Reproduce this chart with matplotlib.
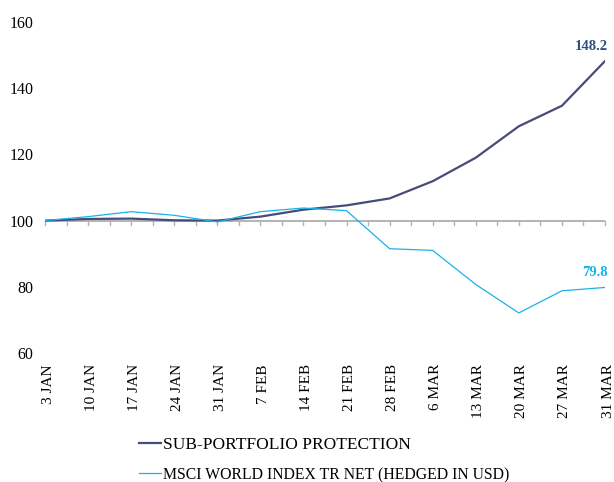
import matplotlib
matplotlib.use("Agg")
import matplotlib.pyplot as plt
import matplotlib.transforms as mtransforms
import numpy as np

categories = ["3 JAN", "10 JAN", "17 JAN", "24 JAN", "31 JAN", "7 FEB", "14 FEB",
              "21 FEB", "28 FEB", "6 MAR", "13 MAR", "20 MAR", "27 MAR", "31 MAR"]
protection = [100.0, 100.5, 100.6, 100.1, 100.0, 101.2, 103.3, 104.6, 106.7,
              111.9, 119.0, 128.5, 134.7, 148.2]
msci = [100.0, 101.2, 102.7, 101.6, 99.6, 102.7, 103.8, 103.0, 91.5, 91.0,
        80.7, 72.1, 78.8, 79.8]
series_names = ["SUB-PORTFOLIO PROTECTION", "MSCI WORLD INDEX TR NET (HEDGED IN USD)"]

plt.rcParams['font.family'] = ['Liberation Serif', 'DejaVu Serif']

dark = "#464c78"
cyan = "#1ab2ea"

fig = plt.figure(figsize=(6.14, 4.82), dpi=100)
ax = fig.add_axes([45/614, 1-353/482, 560/614, 331/482])
x = np.arange(len(categories))
l1, = ax.plot(x, protection, color=dark, lw=1.6, label=series_names[0], zorder=3)
l2, = ax.plot(x, msci, color=cyan, lw=0.9, label=series_names[1], zorder=4)

ax.set_xlim(0, len(categories) - 1)
ax.set_ylim(60, 160)
ax.set_yticks([60, 80, 100, 120, 140, 160])
for s in ax.spines.values():
    s.set_visible(False)
ax.tick_params(axis='y', length=0, pad=8.5, labelsize=11.5)

# category axis at 100
ax.axhline(100, color="#b3b3b3", lw=1.4, zorder=2)
ticks = np.arange(0, len(categories) - 0.5 + 0.01, 0.5)
for t in ticks:
    ax.plot([t, t], [100, 98.8], color="#b3b3b3", lw=1.0, zorder=2, clip_on=False)
ax.set_xticks(x)
ax.set_xticklabels(categories, rotation=90, fontsize=11)
ax.tick_params(axis='x', length=0, pad=8)
shift = mtransforms.ScaledTranslation(3.0/100, 0, fig.dpi_scale_trans)
for lab in ax.get_xticklabels():
    lab.set_transform(lab.get_transform() + shift)

ax.annotate(f"{protection[-1]:.1f}", xy=(x[-1], protection[-1]), xytext=(-10, 6),
            textcoords='offset points', ha='center', va='bottom', fontsize=10.5,
            fontweight='bold', color="#2c4d80")
ax.annotate(f"{msci[-1]:.1f}", xy=(x[-1], msci[-1]), xytext=(-7, 6),
            textcoords='offset points', ha='center', va='bottom', fontsize=10.5,
            fontweight='bold', color=cyan)

leg = fig.legend(handles=[l1, l2], loc='upper left', bbox_to_anchor=(132/614, 1-430/482),
                 frameon=False, fontsize=12.5, handlelength=1.25, handletextpad=0.15,
                 labelspacing=0.8, borderaxespad=0)
leg.get_texts()[1].set_fontsize(11.3)

fig.savefig("out.png", dpi=100)
